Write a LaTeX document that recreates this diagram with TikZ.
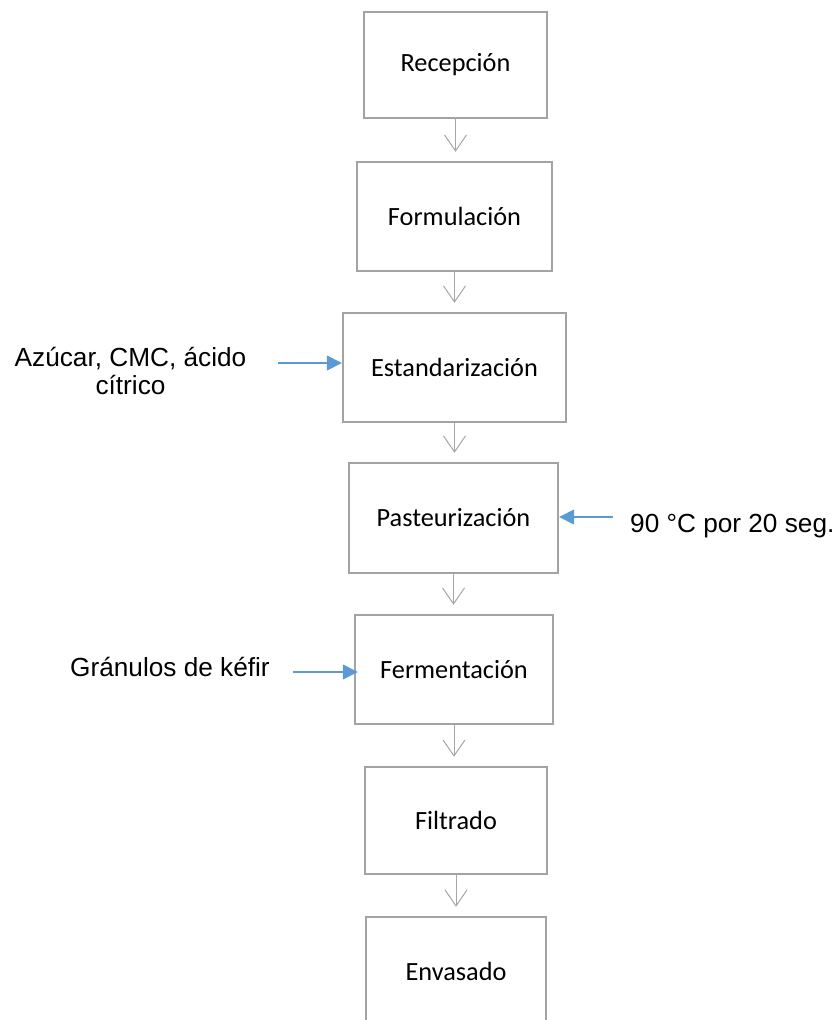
\documentclass[tikz,border=0pt]{standalone}
\usepackage{fontspec}
\setmainfont{Carlito}
\newfontfamily\arialf{Liberation Sans}
\usetikzlibrary{arrows.meta,calc}
\definecolor{boxgray}{HTML}{A3A3A3}
\definecolor{arrgray}{HTML}{A6A6A6}
\definecolor{inblue}{HTML}{5B9BD5}
\begin{document}
\begin{tikzpicture}[x=1pt,y=-1pt,
  stepbox/.style={draw=boxgray, line width=2.4pt, fill=white, inner sep=0pt,
    font=\fontsize{26.3}{30}\selectfont},
  flow/.style={draw=arrgray, line width=1pt, shorten >=9pt,
    -{Straight Barb[length=16pt,width=22pt,line width=1pt]}},
  inarrow/.style={draw=inblue, line width=1.5pt, -{Triangle[length=15pt,width=15pt]}},
  lbl/.style={font=\arialf\fontsize{26.2}{28}\selectfont, inner sep=0pt, text=black}]
\useasboundingbox (0,0) rectangle (838,1020);
\clip (0,0) rectangle (838,1020);
\node[stepbox, minimum width=183pt, minimum height=106pt] (rec)  at (455.5,65)   {Recepción};
\node[stepbox, minimum width=195pt, minimum height=109pt] (form) at (454.5,216.5) {Formulación};
\node[stepbox, minimum width=223pt, minimum height=109pt] (est)  at (454.5,367.5) {Estandarización};
\node[stepbox, minimum width=209pt, minimum height=110pt] (past) at (453.5,518)   {Pasteurización};
\node[stepbox, minimum width=198pt, minimum height=109pt] (ferm) at (454,669.5)   {Fermentación};
\node[stepbox, minimum width=182pt, minimum height=107pt] (filt) at (456,820.5)   {Filtrado};
\node[stepbox, minimum width=180pt, minimum height=108pt] (env)  at (456,971)     {Envasado};

\draw[flow] (rec.south)  -- (rec.south  |- form.north);
\draw[flow] (form.south) -- (form.south |- est.north);
\draw[flow] (est.south)  -- (est.south  |- past.north);
\draw[flow] (past.south) -- (past.south |- ferm.north);
\draw[flow] (ferm.south) -- (ferm.south |- filt.north);
\draw[flow] (filt.south) -- (filt.south |- env.north);

\node[lbl, align=center] (azu) at (130.5,371) {Azúcar, CMC, ácido\\cítrico};
\node[lbl, anchor=base west] (temp) at (630,532) {90 °C por 20 seg.};
\node[lbl, anchor=base west] (gran) at (70,676) {Gránulos de kéfir};

\coordinate (azuS) at (278,363);
\coordinate (pastS) at (613,517);
\coordinate (granS) at (293,672);
\draw[inarrow] (azuS) -- (azuS -| est.west);
\draw[inarrow] (pastS) -- (pastS -| past.east);
\draw[inarrow] (granS) -- ([xshift=4pt]granS -| ferm.west);
\end{tikzpicture}
\end{document}
